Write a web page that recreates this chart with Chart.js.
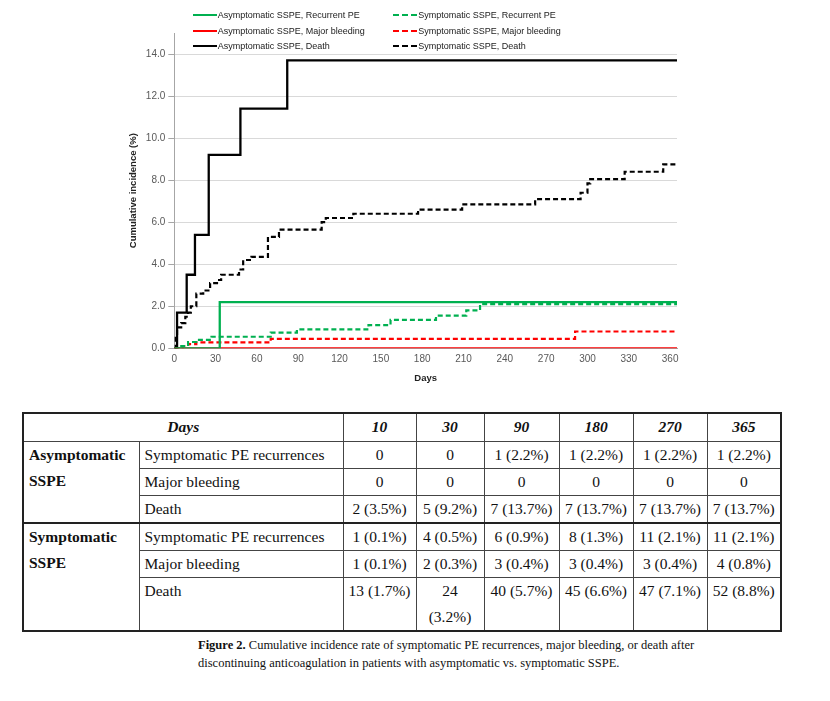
<!DOCTYPE html>
<html>
<head>
<meta charset="utf-8">
<script src="https://cdn.jsdelivr.net/npm/chart.js@4.4.0/dist/chart.umd.min.js"></script>
<style>
  html, body { margin: 0; padding: 0; background: #fff; }
  body { width: 830px; height: 701px; position: relative; overflow: hidden; }
  #chartBox { position: absolute; left: 0; top: 0; width: 830px; height: 395px; }
  .lg { position: absolute; height: 12px; display: flex; align-items: center; white-space: nowrap;
        font: 9px "Liberation Sans", Arial, sans-serif; color: #222; }
  .sw { width: 24px; height: 0; border-top-width: 2px; margin-right: 1px; }
  table { position: absolute; left: 22px; top: 412px; width: 758px; border-collapse: collapse;
          table-layout: fixed; font-family: "Liberation Serif", serif; font-size: 15.5px; color: #111;
          border: 2px solid #222; }
  td { border: 1px solid #444; padding: 0 5px; vertical-align: top; line-height: 26px; white-space: nowrap; }
  td.num { text-align: center; padding: 0 2px; }
  .hd td { font-weight: bold; font-style: italic; text-align: center; }
  td.grp { font-weight: bold; white-space: normal; }
  tr.sep td { border-top: 2px solid #222; }
  #caption { position: absolute; left: 198px; top: 636px; font-family: "Liberation Serif", serif;
             font-size: 12.5px; line-height: 18px; color: #111; white-space: nowrap; }
</style>
</head>
<body>
<div id="chartBox"><canvas id="incChart"></canvas></div>
<div id="legend"></div>
<div id="tableBox"></div>
<div id="caption"><b>Figure 2.</b> Cumulative incidence rate of symptomatic PE recurrences, major bleeding, or death after<br>discontinuing anticoagulation in patients with asymptomatic vs. symptomatic SSPE.</div>

<script>
// curvas de incidência acumulada (dias, %)
const asymPEDays = [0, 33, 365]
const asymPEValues = [0, 2.2, 2.2]

const asymBleedDays = [0, 365]
const asymBleedValues = [0, 0]

const asymDeathDays = [0, 2, 9, 15, 25, 48, 82, 365]
const asymDeathValues = [0, 1.7, 3.5, 5.4, 9.2, 11.4, 13.7, 13.7]

const symPEDays = [0, 4, 10, 16, 27, 70, 89, 141, 157, 190, 212, 222, 365]
const symPEValues = [0, 0.1, 0.3, 0.4, 0.55, 0.75, 0.9, 1.1, 1.35, 1.55, 1.8, 2.1, 2.1]

const symBleedDays = [0, 6, 10, 16, 70, 291, 365]
const symBleedValues = [0, 0.1, 0.2, 0.28, 0.45, 0.8, 0.8]

const symDeathDays = [0, 1, 2, 5, 8, 10, 12, 16, 21, 26, 31, 34, 47, 50, 56, 68, 76, 107, 110, 130, 177, 209, 262, 295, 300, 302, 327, 355, 365]
const symDeathValues = [0, 0.6, 1.0, 1.2, 1.5, 1.7, 2.0, 2.6, 2.75, 3.1, 3.25, 3.5, 3.75, 4.2, 4.35, 5.3, 5.65, 6.0, 6.2, 6.4, 6.6, 6.85, 7.1, 7.4, 7.85, 8.05, 8.4, 8.75, 8.75]

// marcas dos eixos
const xTicks = [0, 30, 60, 90, 120, 150, 180, 210, 240, 270, 300, 330, 360]
const yTicks = [0, 2, 4, 6, 8, 10, 12, 14]

// tabela
const tableDays = [10, 30, 90, 180, 270, 365]
const asymPERow = ['0', '0', '1 (2.2%)', '1 (2.2%)', '1 (2.2%)', '1 (2.2%)']
const asymBleedRow = ['0', '0', '0', '0', '0', '0']
const asymDeathRow = ['2 (3.5%)', '5 (9.2%)', '7 (13.7%)', '7 (13.7%)', '7 (13.7%)', '7 (13.7%)']
const symPERow = ['1 (0.1%)', '4 (0.5%)', '6 (0.9%)', '8 (1.3%)', '11 (2.1%)', '11 (2.1%)']
const symBleedRow = ['1 (0.1%)', '2 (0.3%)', '3 (0.4%)', '3 (0.4%)', '3 (0.4%)', '4 (0.8%)']
const symDeathRow = ['13 (1.7%)', '24<br>(3.2%)', '40 (5.7%)', '45 (6.6%)', '47 (7.1%)', '52 (8.8%)']

const GREEN = '#00B050'
const RED = '#FF0000'
const BLACK = '#000000'

function pts(days, vals) {
    return days.map((d, i) => ({ x: d, y: vals[i] }))
}

function serie(label, days, vals, color, dashed) {
    return {
        label: label,
        data: pts(days, vals),
        borderColor: color,
        backgroundColor: color,
        borderWidth: dashed ? 2.2 : 2.3,
        borderDash: dashed ? [5, 3] : [],
        stepped: true,
        pointRadius: 0,
        fill: false,
    }
}

var lineData = {
    datasets: [
        serie('Asymptomatic SSPE, Recurrent PE', asymPEDays, asymPEValues, GREEN, false),
        serie('Asymptomatic SSPE, Major bleeding', asymBleedDays, asymBleedValues, RED, false),
        serie('Asymptomatic SSPE, Death', asymDeathDays, asymDeathValues, BLACK, false),
        serie('Symptomatic SSPE, Recurrent PE', symPEDays, symPEValues, GREEN, true),
        serie('Symptomatic SSPE, Major bleeding', symBleedDays, symBleedValues, RED, true),
        serie('Symptomatic SSPE, Death', symDeathDays, symDeathValues, BLACK, true),
    ]
};

const tickFont = { family: '"Liberation Sans", Arial, sans-serif', size: 10 }
const titleFont = { family: '"Liberation Sans", Arial, sans-serif', size: 9.5, weight: 'bold' }

var ctx = document.getElementById('incChart').getContext('2d');
const incChart = new Chart(ctx, {
    type: 'line',
    data: lineData,
    options: {
        responsive: true,
        maintainAspectRatio: false,
        animation: false,
        layout: { padding: { left: 128, top: 33, right: 153, bottom: 0 } },
        plugins: {
            legend: { display: false },
            tooltip: { enabled: false }
        },
        scales: {
            x: {
                type: 'linear',
                min: 0,
                max: 365,
                afterFit: (s) => { s.height = 46.7 },
                afterBuildTicks: (s) => { s.ticks = xTicks.map(v => ({ value: v })) },
                ticks: { autoSkip: false, maxRotation: 0, padding: 5, color: '#595959', font: tickFont },
                grid: { display: false, drawTicks: false },
                border: { display: true, color: '#a6a6a6' },
                title: { display: true, text: 'Days', color: '#222', font: titleFont, padding: { top: 0, bottom: 11 } }
            },
            y: {
                min: 0,
                max: 15,
                afterFit: (s) => { s.width = 46.3 },
                afterBuildTicks: (s) => { s.ticks = yTicks.map(v => ({ value: v })) },
                ticks: { padding: 3, color: '#595959', font: tickFont,
                         callback: (v) => v.toFixed(1) },
                grid: { color: '#d9d9d9', tickColor: '#a6a6a6', tickLength: 6 },
                border: { display: true, color: '#a6a6a6' },
                title: { display: true, text: 'Cumulative incidence (%)', color: '#222', font: titleFont, padding: { top: 0, bottom: 0 } }
            }
        }
    }
});

// legenda em duas colunas
const legendCols = [192.7, 393.3]
const legendRows = [9, 24.7, 39.7]
const legendBox = document.getElementById('legend')
lineData.datasets.forEach((ds, i) => {
    const item = document.createElement('div')
    item.className = 'lg'
    item.style.left = legendCols[Math.floor(i / 3)] + 'px'
    item.style.top = legendRows[i % 3] + 'px'
    const sw = document.createElement('span')
    sw.className = 'sw'
    sw.style.borderTopStyle = ds.borderDash.length ? 'dashed' : 'solid'
    sw.style.borderTopColor = ds.borderColor
    item.appendChild(sw)
    item.appendChild(document.createTextNode(ds.label))
    legendBox.appendChild(item)
})

// tabela
const colW = [116, 204, 73, 68, 75, 74, 74, 74]
const groups = [
    { name: 'Asymptomatic SSPE', rows: [['Symptomatic PE recurrences', asymPERow], ['Major bleeding', asymBleedRow], ['Death', asymDeathRow]], h: [27, 26, 27] },
    { name: 'Symptomatic SSPE', rows: [['Symptomatic PE recurrences', symPERow], ['Major bleeding', symBleedRow], ['Death', symDeathRow]], h: [27, 27, 53] },
]
let html = '<table><colgroup>' + colW.map(w => '<col style="width:' + w + 'px">').join('') + '</colgroup>'
html += '<tr class="hd" style="height:28px"><td colspan="2">Days</td>' + tableDays.map(d => '<td class="num">' + d + '</td>').join('') + '</tr>'
groups.forEach((g, gi) => {
    g.rows.forEach((r, ri) => {
        const cls = (gi > 0 && ri === 0) ? ' class="sep"' : ''
        html += '<tr' + cls + ' style="height:' + g.h[ri] + 'px">'
        if (ri === 0) html += '<td class="grp" rowspan="3">' + g.name + '</td>'
        html += '<td>' + r[0] + '</td>' + r[1].map(v => '<td class="num">' + v + '</td>').join('') + '</tr>'
    })
})
html += '</table>'
document.getElementById('tableBox').innerHTML = html
</script>
</body>
</html>
